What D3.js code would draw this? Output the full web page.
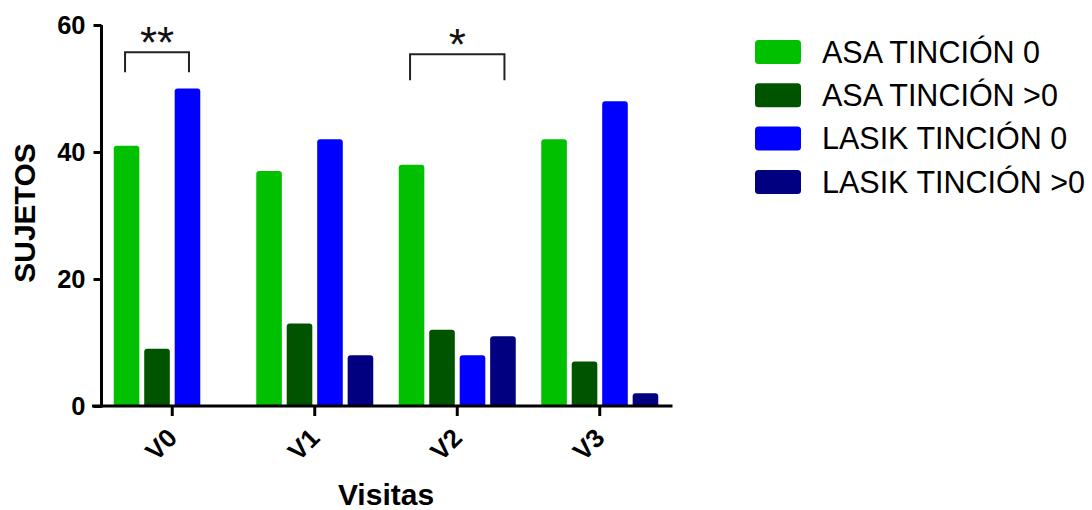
<!DOCTYPE html>
<html>
<head>
<meta charset="utf-8">
<script src="https://cdn.jsdelivr.net/npm/d3@7"></script>
<style>
  html, body { margin: 0; padding: 0; background: #ffffff; }
  svg { display: block; font-family: "Liberation Sans", Arial, sans-serif; }
</style>
</head>
<body>
<svg id="chart" width="1092" height="510"></svg>
<script>
// Visits on the x axis and the four staining groups
const visits = ["V0", "V1", "V2", "V3"];
const seriesNames = ["ASA TINCIÓN 0", "ASA TINCIÓN >0", "LASIK TINCIÓN 0", "LASIK TINCIÓN >0"];
const seriesColors = ["#00c000", "#005400", "#0000ff", "#000080"];

// Number of subjects per visit, one array per group
const asaT0 = [41, 37, 38, 42];
const asaT1 = [9, 13, 12, 7];
const lasikT0 = [50, 42, 8, 48];
const lasikT1 = [0, 8, 11, 2];
const seriesValues = [asaT0, asaT1, lasikT0, lasikT1];

const yTicks = [0, 20, 40, 60];

// Significance brackets: visit, first and last compared group, label
const bracketVisits = ["V0", "V2"];
const bracketFrom = [0, 0];
const bracketTo = [2, 3];
const bracketLabels = ["**", "*"];

const svg = d3.select("#chart");
const font = "'Liberation Sans', Arial, sans-serif";

const y = d3.scaleLinear().domain([0, 60]).range([406, 25]);
const x = d3.scaleBand().domain(visits).range([101, 671]).paddingInner(0).paddingOuter(0);
const xSub = d3.scaleBand().domain(d3.range(seriesNames.length))
  .range([-58.5, 58.5]).paddingInner(0.16).paddingOuter(0);

// Bars with slightly rounded top corners
function barPath(x0, w, yTop, yBase, r) {
  const h = yBase - yTop;
  if (h <= 0) return "";
  r = Math.min(r, h, w / 2);
  return `M${x0},${yBase}V${yTop + r}Q${x0},${yTop} ${x0 + r},${yTop}` +
         `H${x0 + w - r}Q${x0 + w},${yTop} ${x0 + w},${yTop + r}V${yBase}Z`;
}

const barData = [];
visits.forEach((v, i) => {
  seriesValues.forEach((vals, s) => barData.push({ visit: v, s, value: vals[i] }));
});

svg.append("g").selectAll("path").data(barData).join("path")
  .attr("d", d => barPath(x(d.visit) + x.bandwidth() / 2 + xSub(d.s), xSub.bandwidth(),
                          y(d.value), y(0), 3))
  .attr("fill", d => seriesColors[d.s]);

// Y axis
const yAxis = svg.append("g").attr("transform", "translate(101.5,0)")
  .call(d3.axisLeft(y).tickValues(yTicks).tickSize(8).tickPadding(8).tickFormat(d3.format("d")));
yAxis.select(".domain").attr("d", `M0,${y(60)}V${y(0) + 1.5}`).attr("stroke", "#000").attr("stroke-width", 3);
yAxis.selectAll(".tick line").attr("stroke", "#000").attr("stroke-width", 3);
yAxis.selectAll(".tick text").attr("font-family", font).attr("font-size", 25.5)
  .attr("font-weight", "bold").attr("fill", "#000");

// X axis
const xAxis = svg.append("g").attr("transform", "translate(0,406)")
  .call(d3.axisBottom(x).tickSize(10).tickFormat(d => d));
xAxis.select(".domain").attr("d", "M92,0H672.5").attr("stroke", "#000").attr("stroke-width", 3);
xAxis.selectAll(".tick line").attr("stroke", "#000").attr("stroke-width", 3);
xAxis.selectAll(".tick text")
  .attr("font-family", font).attr("font-size", 26).attr("font-weight", "bold").attr("fill", "#000")
  .attr("text-anchor", "end").attr("dy", null).attr("y", null)
  .attr("transform", "translate(-7,20) rotate(-45)")
  .attr("dominant-baseline", "hanging");

// Axis titles
svg.append("text").attr("x", 386).attr("y", 505).attr("text-anchor", "middle")
  .attr("font-family", font).attr("font-size", 30).attr("font-weight", "bold").text("Visitas");
svg.append("text").attr("transform", "translate(35,213) rotate(-90)").attr("text-anchor", "middle")
  .attr("font-family", font).attr("font-size", 30).attr("font-weight", "bold").text("SUJETOS");

// Significance brackets
const bracketTop = [55.7, 55.4];
const bracketLeg = [20, 26];
bracketVisits.forEach((v, i) => {
  const cx = s => x(v) + x.bandwidth() / 2 + xSub(s) + xSub.bandwidth() / 2;
  const x1 = cx(bracketFrom[i]) - 1.5, x2 = cx(bracketTo[i]) + 1.5;
  const top = y(bracketTop[i]);
  svg.append("path")
    .attr("d", `M${x1},${top + bracketLeg[i]}V${top}H${x2}V${top + bracketLeg[i]}`)
    .attr("fill", "none").attr("stroke", "#222").attr("stroke-width", 2);
  svg.append("text").attr("x", (x1 + x2) / 2).attr("y", top + 6)
    .attr("text-anchor", "middle").attr("font-family", font).attr("font-size", 44)
    .attr("fill", "#111").text(bracketLabels[i]);
});

// Legend
const legend = svg.append("g").attr("transform", "translate(755,40)");
seriesNames.forEach((name, i) => {
  const g = legend.append("g").attr("transform", `translate(0,${i * 43.3})`);
  g.append("rect").attr("width", 46).attr("height", 24).attr("rx", 3.5)
    .attr("fill", seriesColors[i]);
  g.append("text").attr("x", 67).attr("y", 22.7)
    .attr("font-family", font).attr("font-size", 30.5).attr("fill", "#000").text(name);
});
</script>
</body>
</html>
